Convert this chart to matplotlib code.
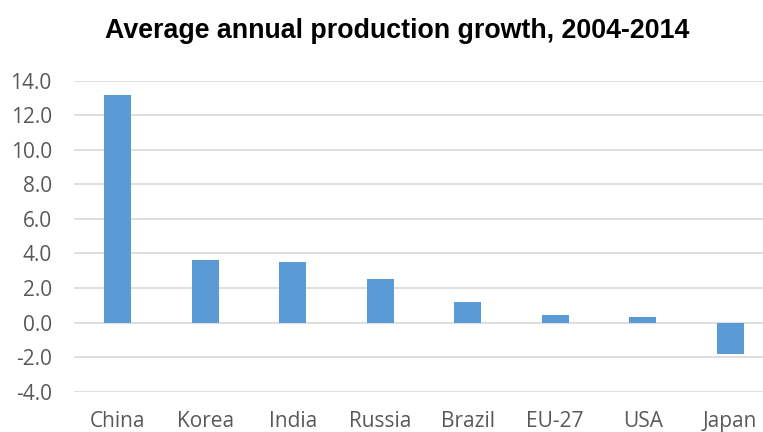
import matplotlib
matplotlib.use("Agg")
import matplotlib.pyplot as plt

categories = ["China", "Korea", "India", "Russia", "Brazil", "EU-27", "USA", "Japan"]
growth = [13.2, 3.65, 3.5, 2.55, 1.2, 0.43, 0.33, -1.83]
y_ticks = [-4.0, -2.0, 0.0, 2.0, 4.0, 6.0, 8.0, 10.0, 12.0, 14.0]

fig = plt.figure(figsize=(7.63, 4.32), dpi=100)
ax = fig.add_axes([74 / 763, 1 - 391.7 / 432, 700 / 763, (391.7 - 80.7) / 432])

x = range(len(categories))
ax.bar(x, growth, width=0.31, color="#5b9bd5", zorder=3)

ax.set_xlim(-0.5, len(categories) - 0.5)
ax.set_ylim(-4.0, 14.0)
ax.set_yticks(y_ticks)
ax.set_yticklabels([f"{v:.1f}" for v in y_ticks])
ax.set_xticks(list(x))
ax.set_xticklabels(categories)

for lab in ax.get_xticklabels() + ax.get_yticklabels():
    lab.set_fontfamily("Open Sans")
    lab.set_fontsize(15)
    lab.set_color("#595959")

ax.tick_params(axis="y", length=0, pad=16)
ax.tick_params(axis="x", length=0, pad=14)
ax.grid(axis="y", color="#d9d9d9", linewidth=1.2, zorder=0)
for s in ax.spines.values():
    s.set_visible(False)

fig.text(397 / 763, 1 - 31 / 432, "Average annual production growth, 2004-2014",
         ha="center", va="center", fontsize=19.3, fontweight="bold",
         fontfamily="Liberation Sans", color="black")

fig.savefig("out.png", dpi=100)
